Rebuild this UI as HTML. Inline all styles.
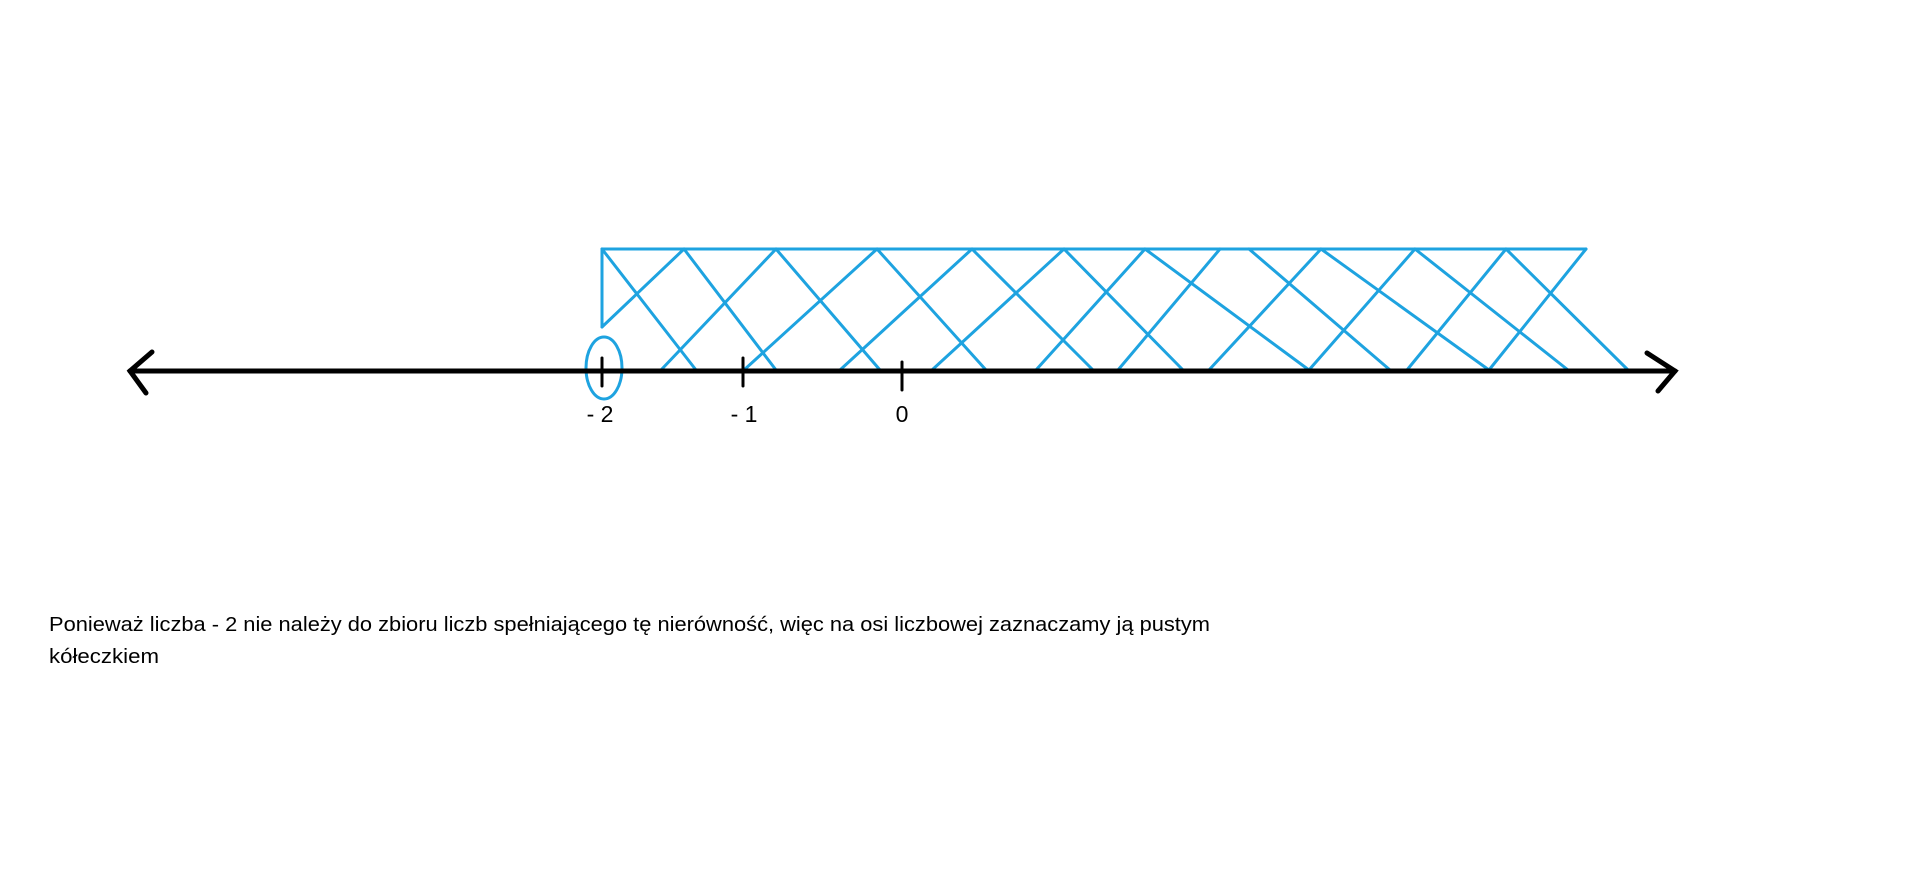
<!DOCTYPE html>
<html><head><meta charset="utf-8"><style>html,body{margin:0;padding:0;background:#fff;}svg{display:block}</style></head>
<body>
<svg width="1906" height="876" viewBox="0 0 1906 876" xmlns="http://www.w3.org/2000/svg">
<g stroke="#1ea3e0" stroke-width="3" fill="none" stroke-linecap="round">
<line x1="602" y1="249" x2="602" y2="327"/>
<line x1="602" y1="249" x2="1586" y2="249"/>
<ellipse cx="604" cy="368" rx="18" ry="31"/>
<line x1="602" y1="327" x2="684" y2="249"/>
<line x1="602" y1="249" x2="696" y2="370"/>
<line x1="684" y1="249" x2="776" y2="370"/>
<line x1="776" y1="249" x2="661" y2="370"/>
<line x1="776" y1="249" x2="880" y2="370"/>
<line x1="877" y1="249" x2="744" y2="370"/>
<line x1="877" y1="249" x2="986" y2="370"/>
<line x1="972" y1="249" x2="840" y2="370"/>
<line x1="972" y1="249" x2="1093" y2="370"/>
<line x1="1064" y1="249" x2="932" y2="370"/>
<line x1="1064" y1="249" x2="1183" y2="370"/>
<line x1="1145" y1="249" x2="1036" y2="370"/>
<line x1="1145" y1="249" x2="1309" y2="370"/>
<line x1="1220" y1="249" x2="1118" y2="370"/>
<line x1="1249" y1="249" x2="1390" y2="370"/>
<line x1="1321" y1="249" x2="1209" y2="370"/>
<line x1="1321" y1="249" x2="1489" y2="370"/>
<line x1="1415" y1="249" x2="1309" y2="370"/>
<line x1="1415" y1="249" x2="1568" y2="370"/>
<line x1="1506" y1="249" x2="1407" y2="370"/>
<line x1="1506" y1="249" x2="1628" y2="370"/>
<line x1="1586" y1="249" x2="1489" y2="370"/>
</g>
<g stroke="#000" fill="none" stroke-linecap="round">
<line x1="130" y1="371" x2="1675" y2="371" stroke-width="5"/>
<polyline points="152,352 130,371 146,393" stroke-width="5"/>
<polyline points="1647,353 1675,371 1658,391" stroke-width="5"/>
<line x1="602" y1="358" x2="602" y2="386" stroke-width="3"/>
<line x1="743" y1="358" x2="743" y2="386" stroke-width="3"/>
<line x1="902" y1="362" x2="902" y2="390" stroke-width="3"/>
</g>
<g font-family="Liberation Sans, sans-serif" font-size="23" fill="#000" text-anchor="middle">
<text x="600" y="422">- 2</text>
<text x="744" y="422">- 1</text>
<text x="902" y="422">0</text>
</g>
<g font-family="Liberation Sans, sans-serif" font-size="20" fill="#000">
<text x="49" y="631" textLength="1161" lengthAdjust="spacingAndGlyphs">Ponieważ liczba - 2 nie należy do zbioru liczb spełniającego tę nierówność, więc na osi liczbowej zaznaczamy ją pustym</text>
<text x="49" y="663" textLength="110" lengthAdjust="spacingAndGlyphs">kółeczkiem</text>
</g>
</svg>
</body></html>
